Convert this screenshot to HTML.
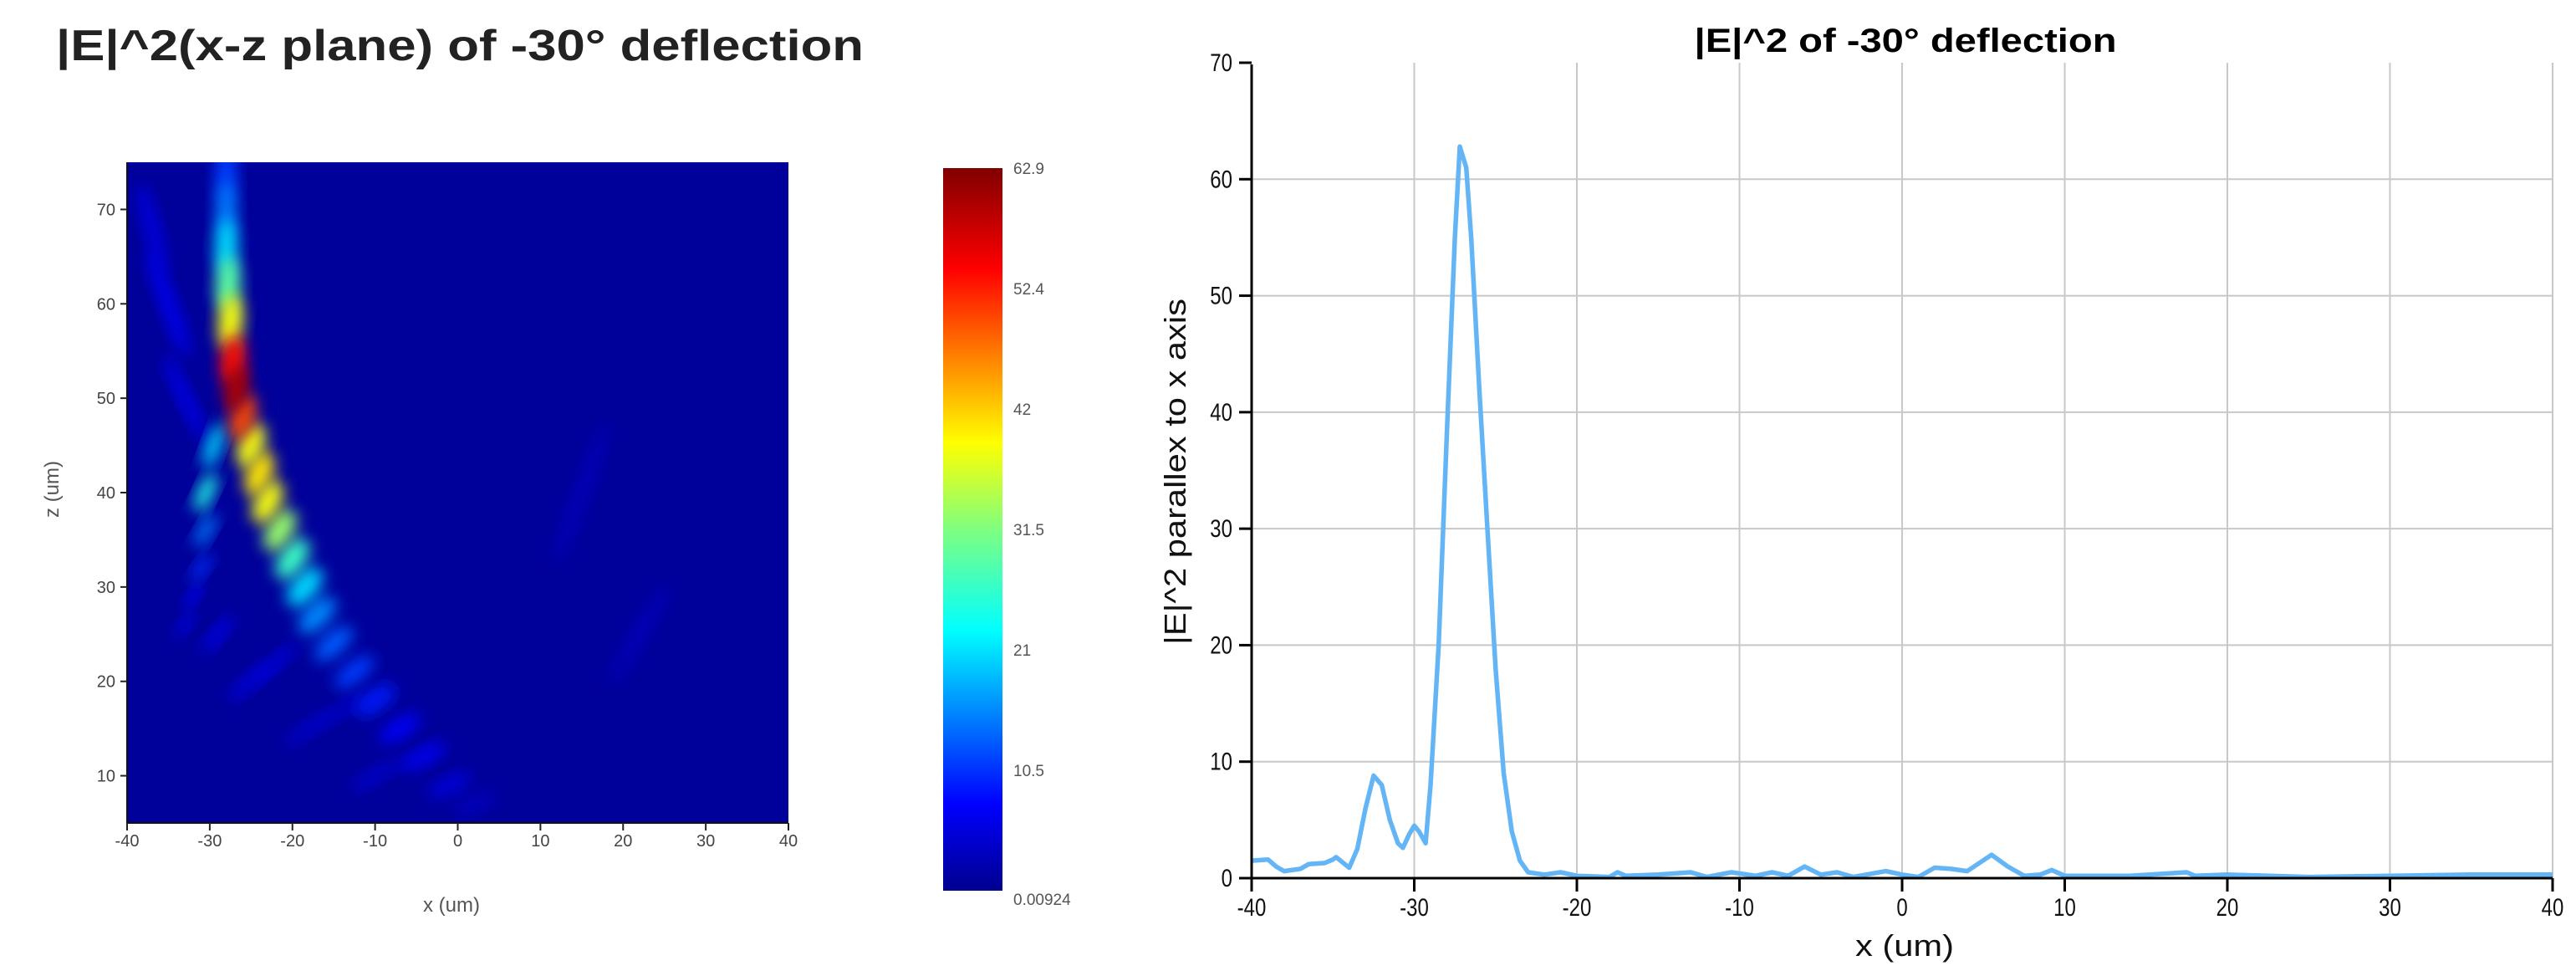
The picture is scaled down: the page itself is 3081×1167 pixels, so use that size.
<!DOCTYPE html>
<html><head><meta charset="utf-8"><style>
html,body{margin:0;padding:0;background:#fff;}
svg{display:block;font-family:"Liberation Sans",sans-serif;}
</style></head><body>
<svg id="root" width="3081" height="1167" viewBox="0 0 3081 1167" xmlns="http://www.w3.org/2000/svg">
<defs>
<filter id="blur" x="-50%" y="-50%" width="200%" height="200%"><feGaussianBlur stdDeviation="9"/></filter>
<linearGradient id="jetGrad" x1="0" y1="1" x2="0" y2="0">
<stop offset="0" stop-color="#00008f"/><stop offset="0.12" stop-color="#0000ff"/>
<stop offset="0.36" stop-color="#00ffff"/><stop offset="0.5" stop-color="#7fff7f"/>
<stop offset="0.62" stop-color="#ffff00"/><stop offset="0.86" stop-color="#ff0000"/>
<stop offset="1" stop-color="#800000"/></linearGradient>
<clipPath id="hmclip"><rect x="152" y="194" width="791" height="790"/></clipPath>
</defs>
<text x="67" y="72" font-size="52" font-weight="bold" fill="#222" textLength="966" lengthAdjust="spacingAndGlyphs">|E|^2(x-z plane) of -30° deflection</text>
<g id="heat"></g>
<g id="cbar"></g>
<g id="line"></g>
</svg>
<script>
// ---- heatmap data (x um, z um, intensity) ----
const hmX = [-28,-28,-28,-27.8,-27.5,-27.2,-26.8,-26,-25,-24,-23,-21.5,-20,-18.5,-17,-15,-12.5,-10,-7,-4,-1,2,
  -29.5,-30.5,-30.5,-31,-32,-33,-35,-37,-33,-25,-18,-10,-29,-22,-14,-5,15,22];
const hmZ = [74,70,66,62,58,54,51,48,45,42,39,36,33,30,27,24,21,18,15,12,9,7,
  45,40,36,32,29,26,60,68,50,20,15,10,25,22,17,12,40,25];
const hmV = [12,16,22,30,40,56,62,52,40,42,40,34,28,22,17,14,12,10,8,7,6,4,
  22,26,16,11,9,7,7,6,7,6,5,5,7,6,5,4,3.5,3.5];
const hmRx = [1.3,1.3,1.4,1.5,1.5,1.5,1.4,1.4,1.5,1.5,1.5,1.5,1.5,1.5,1.4,1.3,1.2,1.2,1.1,1,1,1,
  0.9,0.9,0.8,0.7,0.6,0.6,1,1,0.8,0.8,0.8,0.8,0.7,0.7,0.7,0.7,1,1];
const hmRz = [3,3,3,3,3,2.6,2.5,2.5,2.5,2.5,2.5,2.5,2.5,2.5,2.5,2.5,2.5,2.5,2.5,2.5,2.5,2.5,
  2.5,2.2,2,1.8,1.5,1.5,6,5,5,3,3,3,2.5,3,3,3,8,6];
const hmAng = [0,0,2,4,6,8,12,18,22,25,28,32,35,40,45,48,52,55,58,62,65,68,
  20,25,30,35,35,35,-20,-15,-25,50,55,60,40,50,55,60,20,30];
const xTicks = [-40,-30,-20,-10,0,10,20,30,40];
const zTicks = [10,20,30,40,50,60,70];
const cbLabels = ["62.9","52.4","42","31.5","21","10.5","0.00924"];
// ---- line chart data ----
const lineX = [-40,-39,-38.5,-38,-37,-36.5,-35.5,-35,-34.8,-34,-33.5,-33,-32.5,-32,-31.5,-31,-30.7,-30.3,-30,-29.7,-29.3,-29,-28.5,-28,-27.5,-27.2,-26.8,-26.5,-26,-25.5,-25,-24.5,-24,-23.5,-23,-22,-21,-20,-18,-17.5,-17,-15,-13,-12,-10.5,-9,-8,-7,-6,-5,-4,-3,-1,0,1,2,3,4,5.5,6.5,7.5,8.5,9.2,10,14,17.5,18,20,25,30,35,37,40];
const lineY = [1.5,1.6,1.0,0.6,0.8,1.2,1.3,1.6,1.8,0.9,2.5,6,8.8,8,5,3,2.6,3.8,4.5,4,3,8,20,38,55,62.8,61,55,42,30,18,9,4,1.5,0.5,0.3,0.5,0.2,0.1,0.5,0.2,0.3,0.5,0.1,0.5,0.2,0.5,0.2,1.0,0.3,0.5,0.1,0.6,0.3,0.1,0.9,0.8,0.6,2.0,1.0,0.2,0.3,0.7,0.2,0.2,0.5,0.2,0.3,0.1,0.2,0.3,0.3,0.3];
const lxTicks = [-40,-30,-20,-10,0,10,20,30,40];
const lyTicks = [0,10,20,30,40,50,60,70];

const NS="http://www.w3.org/2000/svg";
function mk(tag,attrs,parent,txt){const e=document.createElementNS(NS,tag);for(const k in attrs)e.setAttribute(k,attrs[k]);if(txt!==undefined)e.textContent=txt;parent.appendChild(e);return e;}
function jet(t){t=Math.max(0,Math.min(1,t));const f=v=>Math.round(255*Math.max(0,Math.min(1,v)));
 const r=1.5-Math.abs(4*t-3),g=1.5-Math.abs(4*t-2),b=1.5-Math.abs(4*t-1);return `rgb(${f(r)},${f(g)},${f(b)})`;}

const hx=v=>152+(v+40)*791/80, hz=v=>984-(v-5)*790/70;
const heat=document.getElementById('heat');
const bg=mk('rect',{x:152,y:194,width:791,height:790,fill:'#00009a'},heat);


const blobs=mk('g',{'clip-path':'url(#hmclip)'},heat);
const sorted=hmV.map((v,i)=>i).sort((a,b)=>hmV[a]-hmV[b]);
for(const i of sorted){
 const cx=hx(hmX[i]),cy=hz(hmZ[i]);
 const e=mk('ellipse',{cx:cx,cy:cy,rx:hmRx[i]*9.89,ry:hmRz[i]*11.29,fill:jet(hmV[i]/62.9*0.97),filter:'url(#blur)',transform:`rotate(${hmAng[i]} ${cx} ${cy})`},blobs);
 
 
}
const frame=mk('path',{d:'M152 194 V984 H943',stroke:'#111',fill:'none','stroke-width':2},heat);


xTicks.forEach(v=>{const x=hx(v);mk('line',{x1:x,x2:x,y1:984,y2:993,stroke:'#222','stroke-width':2},heat);
 const t=mk('text',{x:x,y:1012,'font-size':20,'text-anchor':'middle',fill:'#444'},heat,String(v));
 
 });
zTicks.forEach(v=>{const y=hz(v);mk('line',{x1:144,x2:152,y1:y,y2:y,stroke:'#222','stroke-width':2},heat);
 const t=mk('text',{x:138,y:y+7,'font-size':20,'text-anchor':'end',fill:'#444'},heat,String(v));
 
 });
const xt=mk('text',{x:540,y:1090,'font-size':24,'text-anchor':'middle',fill:'#555'},heat,'x (um)');


const zt=mk('text',{x:0,y:0,'font-size':24,'text-anchor':'middle',fill:'#555',transform:'translate(70 585) rotate(-90)'},heat,'z (um)');



const cb=document.getElementById('cbar');
const cr=mk('rect',{x:1128,y:201,width:71,height:864,fill:'url(#jetGrad)'},cb);


cbLabels.forEach((s,i)=>{const t=mk('text',{x:1212,y:201+i*144+(i==6?17:7),'font-size':19,fill:'#555'},cb,s);
 
 });

const lg=document.getElementById('line');
const lx=v=>1497+(v+40)*1556/80, ly=v=>1050-v*975/70;
lxTicks.forEach(v=>{if(v>-40){const g=mk('line',{x1:lx(v),x2:lx(v),y1:75,y2:1050,stroke:'#c8c8c8','stroke-width':2},lg);
 
 }});
lyTicks.forEach(v=>{if(v>0&&v<70){const g=mk('line',{x1:1497,x2:3053,y1:ly(v),y2:ly(v),stroke:'#c8c8c8','stroke-width':2},lg);
 
 }});
const path=lineX.map((x,i)=>(i?'L':'M')+lx(x).toFixed(1)+' '+ly(lineY[i]).toFixed(1)).join(' ');
const ln=mk('path',{d:path,stroke:'#64b5f6',fill:'none','stroke-width':5.5,'stroke-linejoin':'round'},lg);


const ax=mk('path',{d:'M1497 77 V1050 H3053',stroke:'#000',fill:'none','stroke-width':3},lg);


lxTicks.forEach(v=>{const x=lx(v);mk('line',{x1:x,x2:x,y1:1050,y2:1066,stroke:'#000','stroke-width':3},lg);
 const t=mk('text',{x:x,y:1095,'font-size':30,'text-anchor':'middle',fill:'#111',transform:`translate(${x} 0) scale(0.8 1) translate(${-x} 0)`},lg,String(v));
 
 });
lyTicks.forEach(v=>{const y=ly(v);mk('line',{x1:1482,x2:1497,y1:y,y2:y,stroke:'#000','stroke-width':3},lg);
 const t=mk('text',{x:1474,y:y+10,'font-size':30,'text-anchor':'end',fill:'#111',transform:`translate(1474 0) scale(0.8 1) translate(-1474 0)`},lg,String(v));
 
 });
const ttl=mk('text',{x:2279,y:62,'font-size':40,'font-weight':'bold','text-anchor':'middle',fill:'#000',textLength:505,lengthAdjust:'spacingAndGlyphs'},lg,'|E|^2 of -30° deflection');


const lxt=mk('text',{x:2278,y:1143,'font-size':36,'text-anchor':'middle',fill:'#111',textLength:118,lengthAdjust:'spacingAndGlyphs'},lg,'x (um)');


const lyt=mk('text',{x:0,y:0,'font-size':36,'text-anchor':'middle',fill:'#111',textLength:414,lengthAdjust:'spacingAndGlyphs',transform:'translate(1418 564) rotate(-90)'},lg,'|E|^2 parallex to x axis');


</script>
</body></html>
